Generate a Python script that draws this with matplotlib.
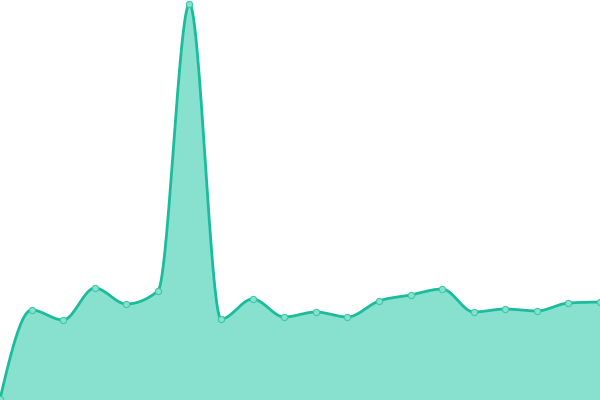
import matplotlib
matplotlib.use("Agg")
import matplotlib.pyplot as plt
import numpy as np

# values (pixel heights above the bottom edge)
idx = list(range(20))
values = [1, 90, 80, 112, 96, 109, 396, 81, 101, 83,
          88, 83, 99, 105, 111, 88, 91, 89, 97, 98]

line_color = "#1abc9c"
fill_color = "#88e0cf"


def monotone_x(x, y, n=40):
    """monotone cubic curve through the points, like d3.curveMonotoneX"""
    x = np.asarray(x, float)
    y = np.asarray(y, float)
    h = np.diff(x)
    s = np.diff(y) / h
    t = np.zeros(len(x))
    for i in range(1, len(x) - 1):
        p = (s[i - 1] * h[i] + s[i] * h[i - 1]) / (h[i - 1] + h[i])
        t[i] = (np.sign(s[i - 1]) + np.sign(s[i])) * min(abs(s[i - 1]), abs(s[i]), 0.5 * abs(p))
    t[0] = (3 * s[0] - t[1]) / 2
    t[-1] = (3 * s[-1] - t[-2]) / 2
    xs, ys = [], []
    for i in range(len(x) - 1):
        u = np.linspace(0, 1, n, endpoint=False)
        h00 = 2 * u**3 - 3 * u**2 + 1
        h10 = u**3 - 2 * u**2 + u
        h01 = -2 * u**3 + 3 * u**2
        h11 = u**3 - u**2
        xs.append(x[i] + u * h[i])
        ys.append(h00 * y[i] + h10 * h[i] * t[i] + h01 * y[i + 1] + h11 * h[i] * t[i + 1])
    xs.append([x[-1]])
    ys.append([y[-1]])
    return np.concatenate(xs), np.concatenate(ys)


fig = plt.figure(figsize=(6, 4), dpi=100)
ax = fig.add_axes([0, 0, 1, 1])

cx, cy = monotone_x(idx, values)
ax.fill_between(cx, cy, 0, color=fill_color, linewidth=0)
ax.plot(cx, cy, color=line_color, linewidth=2.0, solid_capstyle="round")
ax.plot(idx, values, "o", markersize=4.5, markerfacecolor=fill_color,
        markeredgecolor="#3cc9a8", markeredgewidth=0.8)

ax.set_xlim(0, 19)
ax.set_ylim(0, 400)
ax.axis("off")

fig.savefig("out.png", dpi=100)
